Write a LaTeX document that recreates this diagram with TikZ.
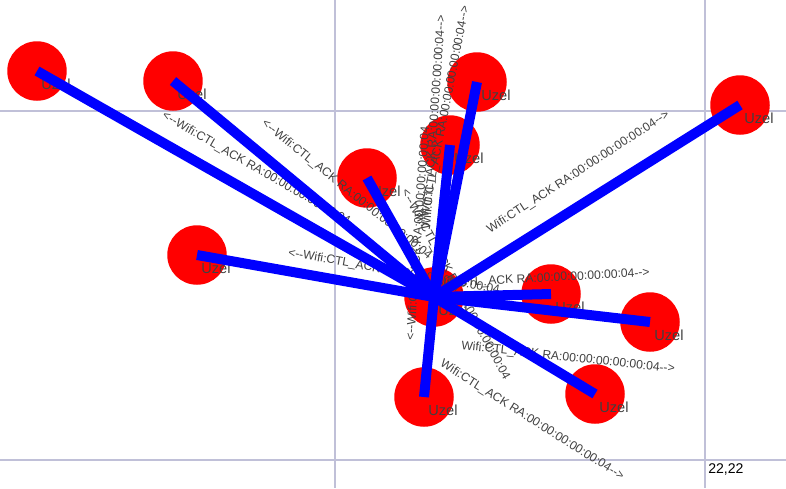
\documentclass[tikz,border=0pt]{standalone}
\usepackage{fontspec}
\usepackage{xcolor}
\usepackage{tikz}
\newfontfamily\netfont{Liberation Sans}
\definecolor{gridline}{RGB}{192,192,216}
\definecolor{pkttext}{RGB}{64,64,64}
\newcommand{\ackto}{Wifi:CTL\_ACK RA:00:00:00:00:00:04-->}
\newcommand{\ackfrom}{<--Wifi:CTL\_ACK RA:00:00:00:00:00:04}

\begin{document}
\begin{tikzpicture}[x=0.02cm, y=-0.02cm,
    uzel/.style = {circle, fill=red, minimum size=1.19cm, inner sep=0pt},
    tag/.style = {font=\netfont\fontsize{8.3}{9}\selectfont, text=pkttext, inner sep=0pt, anchor=west},
    pkt/.style = {font=\netfont\fontsize{6.9}{8}\selectfont, text=pkttext, inner sep=0pt},
    link/.style = {draw=blue, line width=0.2cm}]
        \useasboundingbox (0,0) rectangle (786,488);
        \draw[gridline, line width=0.6pt] (335,0) -- (335,488);
        \draw[gridline, line width=0.6pt] (705,0) -- (705,488);
        \draw[gridline, line width=0.6pt] (0,111) -- (786,111);
        \draw[gridline, line width=0.6pt] (0,460) -- (786,460);
        \node[uzel] (0) at (434, 297) {};
        \node[uzel] (1) at (37, 71) {};
        \node[uzel] (2) at (173, 81) {};
        \node[uzel] (3) at (477, 82) {};
        \node[uzel] (4) at (450, 145) {};
        \node[uzel] (5) at (367, 178) {};
        \node[uzel] (6) at (740, 105) {};
        \node[uzel] (7) at (197, 255) {};
        \node[uzel] (8) at (551, 294) {};
        \node[uzel] (9) at (650, 322) {};
        \node[uzel] (10) at (595, 394) {};
        \node[uzel] (11) at (424, 397) {};
        \node[tag] (t0) at ([shift={(4,13)}]0.center) {Uzel};
        \node[tag] (t1) at ([shift={(4,13)}]1.center) {Uzel};
        \node[tag] (t2) at ([shift={(4,13)}]2.center) {Uzel};
        \node[tag] (t3) at ([shift={(4,13)}]3.center) {Uzel};
        \node[tag] (t4) at ([shift={(4,13)}]4.center) {Uzel};
        \node[tag] (t5) at ([shift={(4,13)}]5.center) {Uzel};
        \node[tag] (t6) at ([shift={(4,13)}]6.center) {Uzel};
        \node[tag] (t7) at ([shift={(4,13)}]7.center) {Uzel};
        \node[tag] (t8) at ([shift={(4,13)}]8.center) {Uzel};
        \node[tag] (t9) at ([shift={(4,13)}]9.center) {Uzel};
        \node[tag] (t10) at ([shift={(4,13)}]10.center) {Uzel};
        \node[tag] (t11) at ([shift={(4,13)}]11.center) {Uzel};
        \node[pkt, anchor=west, rotate=-30] (p1) at (163, 115) {\ackfrom};
        \node[pkt, anchor=west, rotate=-39] (p2) at (263, 122) {\ackfrom};
        \node[pkt, anchor=west, rotate=-10] (p3) at (288, 253) {\ackfrom};
        \node[pkt, anchor=west, rotate=-61.5] (p4) at (404, 190) {\ackfrom};
        \node[pkt, anchor=east, rotate=86] (p5) at (442, 15) {\ackto};
        \node[pkt, anchor=east, rotate=79] (p6) at (466, 6) {\ackto};
        \node[pkt, anchor=west, rotate=86] (p7) at (411, 341) {\ackfrom};
        \node[pkt, anchor=west, rotate=33] (p8) at (488, 231) {\ackto};
        \node[pkt, anchor=east, rotate=3] (p9) at (650, 273) {\ackto};
        \node[pkt, anchor=west, rotate=-6.3] (p10) at (461, 346) {\ackto};
        \node[pkt, anchor=west, rotate=-32.2] (p11) at (441, 363) {\ackto};
        \node[font=\netfont\fontsize{8}{9}\selectfont, anchor=north west, inner sep=0pt] (pos) at (708, 463) {22,22};
        \draw[link] (0.center) -- (1.center);
        \draw[link] (0.center) -- (2.center);
        \draw[link] (0.center) -- (3.center);
        \draw[link] (0.center) -- (4.center);
        \draw[link] (0.center) -- (5.center);
        \draw[link] (0.center) -- (6.center);
        \draw[link] (0.center) -- (7.center);
        \draw[link] (0.center) -- (8.center);
        \draw[link] (0.center) -- (9.center);
        \draw[link] (0.center) -- (10.center);
        \draw[link] (0.center) -- (11.center);
    \end{tikzpicture}
\end{document}
